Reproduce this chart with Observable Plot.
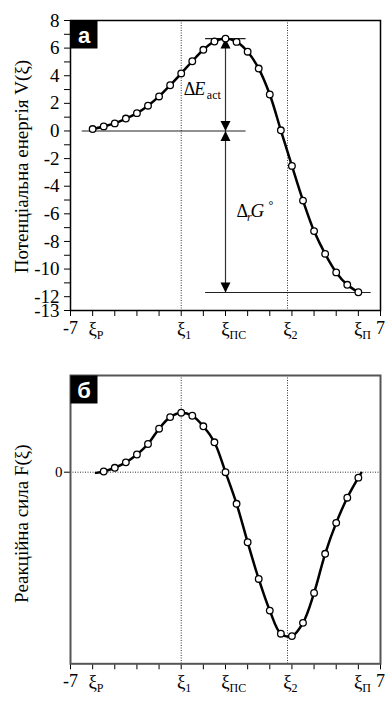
<!DOCTYPE html>
<html><head><meta charset="utf-8">
<script src="https://cdn.jsdelivr.net/npm/d3@7"></script>
<script src="https://cdn.jsdelivr.net/npm/@observablehq/plot@0.6"></script>
<style>
body{margin:0;background:#fff;}
#chart svg{display:block;font-family:'Liberation Serif','Times New Roman',serif;}
</style></head><body><div id="chart"></div>
<script>
// ---- data ----
const xs = [-6,-5.5,-5,-4.5,-4,-3.5,-3,-2.5,-2,-1.5,-1,-0.5,0,0.5,1,1.5,2,2.5,3,3.5,4,4.5,5,5.5,6];
const potential = [0.14,0.33,0.55,0.9,1.29,1.83,2.5,3.31,4.17,5.05,5.88,6.48,6.69,6.45,5.74,4.52,2.64,0.05,-2.53,-5.04,-7.25,-8.9,-10.24,-11.14,-11.68];
const forceX = [-5.5,-5,-4.5,-4,-3.5,-3,-2.5,-2,-1.5,-1,-0.5,0,0.5,1,1.5,2,2.5,3,3.5,4,4.5,5,5.5,6];
const force = [0.02,0.13,0.29,0.52,0.83,1.28,1.62,1.75,1.66,1.35,0.88,0.0,-0.93,-2.06,-3.14,-4.07,-4.75,-4.82,-4.43,-3.55,-2.4,-1.49,-0.75,-0.16];
const forceTailX = [-5.85, 6.13];
const forceTailY = [-0.02, -0.02];
const xTickValues = d3.range(-7, 8);
const yTickValues = d3.range(-13, 9);
const xLabelPos = [-7, -6, -2, 0, 2.8, 6, 7];
const xLabelMain = ["-7", "ξ", "ξ", "ξ", "ξ", "ξ", "7"];
const xLabelSub = ["", "Р", "1", "ПС", "2", "П", ""];
const markerLines = [-2, 2.8];
const levelY = [6.69, 0, -11.7];
const levelX1 = [-0.9, -6.47, -0.9];
const levelX2 = [0.93, 0.93, 6.58];
const arrowX = 0;
const eActPos = [-1.88, 2.64];
const dGPos = [0.5, -6.25];

// ---- helpers ----
const serif = "Liberation Serif";
const sans = "Liberation Sans";
const headUp = {draw(c){c.moveTo(0,0);c.lineTo(-5,10);c.lineTo(5,10);c.closePath();}};
const headDown = {draw(c){c.moveTo(0,0);c.lineTo(-5,-10);c.lineTo(5,-10);c.closePath();}};
const boxSym = {draw(c){c.moveTo(-13.5,-14);c.lineTo(13.5,-14);c.lineTo(13.5,14);c.lineTo(-13.5,14);c.closePath();}};
const numIdx = xLabelMain.map((d,i)=>i).filter(i => xLabelMain[i] !== "ξ");
const xiIdx = xLabelMain.map((d,i)=>i).filter(i => xLabelMain[i] === "ξ");
const svgStyle = "font-family:'Liberation Serif','Times New Roman',serif;font-size:18px;color:black;background:white;";

function xLabelMarks() {
  return [
    Plot.text(numIdx, {x: i => xLabelPos[i], text: i => xLabelMain[i], frameAnchor: "bottom", textAnchor: "middle", lineAnchor: "bottom", dy: 23, fontSize: 18, fontFamily: serif, fill: "black"}),
    Plot.text(xiIdx, {x: i => xLabelPos[i], text: i => xLabelMain[i], frameAnchor: "bottom", textAnchor: "middle", lineAnchor: "bottom", dy: 24, fontSize: 19, fontFamily: serif, fill: "black"}),
    Plot.text(xiIdx, {x: i => xLabelPos[i], text: i => xLabelSub[i], frameAnchor: "bottom", lineAnchor: "bottom", textAnchor: "start", dx: 4, dy: 28, fontSize: 12, fontFamily: serif, fill: "black"})
  ];
}
function panelLabel(t) {
  return [
    Plot.dot([0], {frameAnchor: "top-left", dx: 13.5, dy: 14, symbol: boxSym, fill: "black", stroke: "none"}),
    Plot.text([t], {text: d => d, frameAnchor: "top-left", dx: 13.5, dy: 22, textAnchor: "middle", lineAnchor: "bottom", fill: "white", fontFamily: sans, fontWeight: "bold", fontSize: 22})
  ];
}
function t(str, pos, opts) {
  return Plot.text([str], {x: pos[0], y: pos[1], text: d => d, textAnchor: "start", lineAnchor: "bottom", fontFamily: serif, fill: "black", ...opts});
}

const topPlot = Plot.plot({
  width: 385, height: 360, marginTop: 20, marginBottom: 50, marginLeft: 70, marginRight: 5,
  style: svgStyle,
  x: {domain: [-7, 7]},
  y: {domain: [-13, 8]},
  marks: [
    Plot.ruleX(markerLines, {stroke: "#333", strokeWidth: 1, strokeDasharray: "1,1.5"}),
    Plot.ruleY(levelY, {x1: levelX1, x2: levelX2, stroke: "#222", strokeWidth: 1.1}),
    Plot.ruleX([arrowX], {y1: levelY[0], y2: levelY[2], stroke: "#333", strokeWidth: 1.2}),
    Plot.dot([levelY[0], levelY[1]], {x: arrowX, y: d => d, symbol: headUp, fill: "black", stroke: "none"}),
    Plot.dot([levelY[1], levelY[2]], {x: arrowX, y: d => d, symbol: headDown, fill: "black", stroke: "none"}),
    Plot.line(xs, {x: xs, y: potential, curve: "catmull-rom", stroke: "black", strokeWidth: 2.5}),
    Plot.dot(xs, {x: xs, y: potential, r: 3.3, fill: "white", stroke: "black", strokeWidth: 1.3}),
    t("Δ", eActPos, {fontSize: 18}),
    t("E", eActPos, {fontSize: 18, fontStyle: "italic", dx: 10.5}),
    t("act", eActPos, {fontSize: 12, dx: 23, dy: 4}),
    t("Δ", dGPos, {fontSize: 18}),
    t("r", dGPos, {fontSize: 12, fontStyle: "italic", dx: 10.5, dy: 3.5}),
    t("G", dGPos, {fontSize: 19, fontStyle: "italic", dx: 14}),
    t("°", dGPos, {fontSize: 12, dx: 32, dy: -8}),
    Plot.axisY({ticks: yTickValues, tickFormat: d => (d % 2 === 0 || d === -13) ? String(d) : "", tickSize: 6, tickPadding: 5, fontSize: 19, fontFamily: serif, label: null}),
    Plot.axisX({ticks: xTickValues, tickFormat: () => "", tickSize: 6, label: null}),
    ...xLabelMarks(),
    Plot.text(["Потенціальна енергія V(ξ)"], {text: d => d, frameAnchor: "left", textAnchor: "middle", lineAnchor: "middle", rotate: -90, dx: -49, dy: 1, fontSize: 19, fontFamily: serif}),
    Plot.frame({stroke: "black", strokeWidth: 1.5}),
    ...panelLabel("а")
  ]
});

const botPlot = Plot.plot({
  width: 385, height: 341, marginTop: 15, marginBottom: 37.7, marginLeft: 70, marginRight: 5,
  style: svgStyle,
  x: {domain: [-7, 7]},
  y: {domain: [-5.635, 2.844]},
  marks: [
    Plot.ruleX(markerLines, {stroke: "#333", strokeWidth: 1, strokeDasharray: "1,1.5"}),
    Plot.ruleY([0], {stroke: "#333", strokeWidth: 1, strokeDasharray: "1,1.5"}),
    Plot.line([forceTailX[0], ...forceX, forceTailX[1]], {x: d => d, y: [forceTailY[0], ...force, forceTailY[1]], curve: "catmull-rom", stroke: "black", strokeWidth: 2.5}),
    Plot.dot(forceX, {x: forceX, y: force, r: 3.3, fill: "white", stroke: "black", strokeWidth: 1.3}),
    Plot.axisY({ticks: [0], tickFormat: d => String(d), tickSize: 6, tickPadding: 2, fontSize: 15, fontFamily: serif, label: null}),
    Plot.axisX({ticks: xTickValues, tickFormat: () => "", tickSize: 6, label: null}),
    ...xLabelMarks(),
    Plot.text(["Реакційна сила F(ξ)"], {text: d => d, frameAnchor: "left", textAnchor: "middle", lineAnchor: "middle", rotate: -90, dx: -49, dy: 4, fontSize: 19, fontFamily: serif}),
    Plot.frame({stroke: "#555", strokeWidth: 2}),
    ...panelLabel("б")
  ]
});

const el = document.getElementById("chart");
el.appendChild(topPlot);
el.appendChild(botPlot);
</script></body></html>
